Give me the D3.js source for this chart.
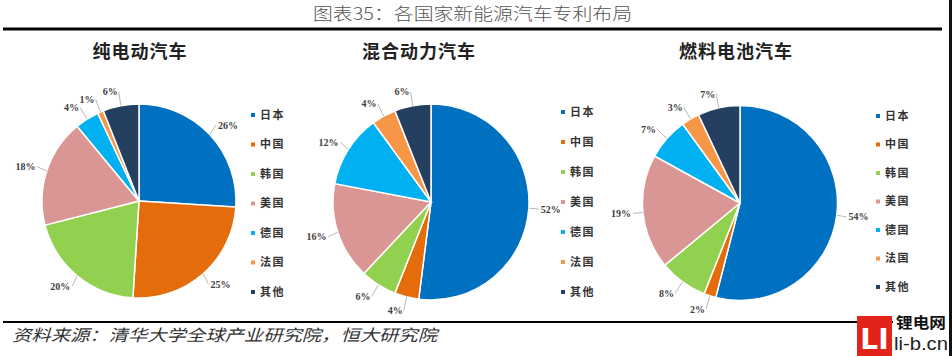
<!DOCTYPE html>
<html><head><meta charset="utf-8">
<script src="https://cdn.jsdelivr.net/npm/d3@7"></script>
<style>body{margin:0;background:#fff}svg{display:block}</style>
</head><body><svg id="c" width="952" height="356"></svg>
<script>
// ---- data ----
const countries = ["日本","中国","韩国","美国","德国","法国","其他"];
const sliceColors = ["#0070C0","#E46C0A","#92D050","#D99694","#00B0F0","#F79646","#243F60"];
const chartTitles = ["纯电动汽车","混合动力汽车","燃料电池汽车"];
const bevShares = [26,25,20,18,4,1,6];
const hevShares = [52,4,6,16,12,4,6];
const fcvShares = [54,2,8,19,7,3,7];
const mainTitle = "图表35：各国家新能源汽车专利布局";
const sourceNote = "资料来源：清华大学全球产业研究院，恒大研究院";

// ---- layout ----
const panels = [
  {values: bevShares, title: chartTitles[0], cx:139, cy:201, r:97,  titleX:140, legX:251, legY:115, legStep:29.5},
  {values: hevShares, title: chartTitles[1], cx:431, cy:202, r:98,  titleX:419, legX:561, legY:112, legStep:30},
  {values: fcvShares, title: chartTitles[2], cx:740, cy:203, r:97.5,titleX:736, legX:876, legY:116, legStep:28.5}
];

const svg = d3.select("#c");
const CJK = "'Noto Sans CJK SC','Noto Sans',sans-serif";
const color = d3.scaleOrdinal().domain(countries).range(sliceColors);

// main title & rules
svg.append("text").attr("x",313).attr("y",20)
  .attr("textLength",319).attr("lengthAdjust","spacingAndGlyphs")
  .style("font-family",CJK).style("font-weight",300).style("font-size","17px")
  .attr("fill","#555").text(mainTitle);
svg.append("rect").attr("x",3).attr("y",27.5).attr("width",939).attr("height",3).attr("fill","#000");
svg.append("rect").attr("x",3).attr("y",321).attr("width",890).attr("height",2).attr("fill","#000");
svg.append("rect").attr("x",949).attr("y",0).attr("width",3).attr("height",356).attr("fill","#111");

svg.append("text").attr("x",12).attr("y",341)
  .attr("textLength",425).attr("lengthAdjust","spacingAndGlyphs")
  .style("font-family",CJK).style("font-style","italic").style("font-size","16px")
  .attr("fill","#333").text(sourceNote);

panels.forEach(p => {
  const g = svg.append("g");
  g.append("text").attr("x",p.titleX).attr("y",58).attr("text-anchor","middle")
    .style("font-family",CJK).style("font-weight",700).style("font-size","18px")
    .style("letter-spacing","1px").attr("fill","#222").text(p.title);

  const arcs = d3.pie().sort(null).value(d => d.v)(p.values.map((v,i)=>({v, k:countries[i]})));
  const arc = d3.arc().innerRadius(0).outerRadius(p.r);
  const pg = g.append("g").attr("transform",`translate(${p.cx},${p.cy})`);
  pg.selectAll("path").data(arcs).join("path")
    .attr("d",arc).attr("fill",d=>color(d.data.k))
    .attr("stroke","#fff").attr("stroke-width",1.5);

  arcs.forEach(d => {
    const t = (d.startAngle+d.endAngle)/2;
    const s = Math.sin(t), c = Math.cos(t), sg = s>=0?1:-1;
    const ex = s*p.r, ey = -c*p.r;
    const lx = ex + s*14 + sg*8, ly = ey - c*14;
    const label = d.data.v + "%";
    const hw = label.length*3.3;
    pg.append("polyline")
      .attr("points",[[ex,ey],[lx - sg*(hw+2), ly]].map(q=>q.join(",")).join(" "))
      .attr("fill","none").attr("stroke","#A6A6A6").attr("stroke-width",0.8);
    pg.append("text").attr("x",lx).attr("y",ly).attr("dy","0.35em").attr("text-anchor","middle")
      .style("font-family","'Liberation Serif',serif").style("font-weight",700).style("font-size","10px")
      .attr("fill","#404040").text(label);
  });

  const lg = g.append("g");
  countries.forEach((k,i) => {
    const y = p.legY + i*p.legStep;
    lg.append("rect").attr("x",p.legX).attr("y",y-2).attr("width",4).attr("height",4).attr("fill",color(k));
    lg.append("text").attr("x",p.legX+9).attr("y",y).attr("dy","0.36em")
      .style("font-family",CJK).style("font-weight",700).style("font-size","11px")
      .style("letter-spacing","1.5px").attr("fill","#333").text(k);
  });
});

// watermark logo
svg.append("rect").attr("x",857).attr("y",316).attr("width",35).attr("height",40).attr("fill","#E2231A");
svg.append("text").attr("x",874.5).attr("y",349).attr("text-anchor","middle")
  .style("font-family","'DejaVu Sans',sans-serif").style("font-weight",700).style("font-size","28px")
  .attr("fill","#fff").text("LI");
svg.append("text").attr("x",896).attr("y",328).attr("textLength",50).attr("lengthAdjust","spacingAndGlyphs")
  .style("font-family",CJK).style("font-weight",700).style("font-size","15px").attr("fill","#111").text("锂电网");
svg.append("text").attr("x",894).attr("y",350).attr("textLength",54).attr("lengthAdjust","spacingAndGlyphs")
  .style("font-family","'Liberation Sans',sans-serif").style("font-size","18px").attr("fill","#222").text("li-b.cn");
</script></body></html>
